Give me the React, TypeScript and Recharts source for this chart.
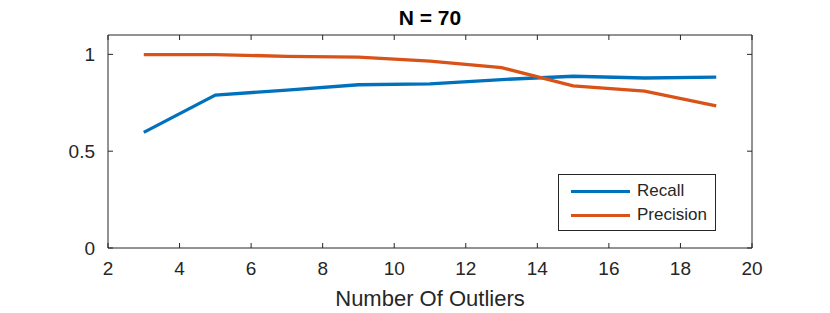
import React from 'react';
import { LineChart, Line, XAxis, YAxis, Legend, Label } from 'recharts';

const outliers = [3, 5, 7, 9, 11, 13, 15, 17, 19];
const recall = [0.597, 0.79, 0.815, 0.843, 0.848, 0.87, 0.887, 0.878, 0.882];
const precision = [0.999, 0.999, 0.99, 0.986, 0.965, 0.932, 0.837, 0.81, 0.734];
const xTicks = [2, 4, 6, 8, 10, 12, 14, 16, 18, 20];
const yTicks = [0, 0.5, 1];

const BLUE = '#0072BD';
const ORANGE = '#D95319';
const AXIS = '#262626';
const FONT = '"Liberation Sans", Arial, Helvetica, sans-serif';

const data = outliers.map((x, i) => ({ x, recall: recall[i], precision: precision[i] }));

const LegendBox = () => (
  <div
    style={{
      width: 156,
      height: 51,
      border: '1px solid #262626',
      background: '#fff',
      fontFamily: FONT,
      fontSize: 17,
      color: AXIS,
      boxSizing: 'content-box',
      paddingTop: 4,
    }}
  >
    {[
      { name: 'Recall', color: BLUE },
      { name: 'Precision', color: ORANGE },
    ].map((item) => (
      <div key={item.name} style={{ display: 'flex', alignItems: 'center', height: 24 }}>
        <span
          style={{
            display: 'inline-block',
            width: 59,
            height: 3,
            marginLeft: 12,
            marginRight: 7,
            background: item.color,
          }}
        />
        <span>{item.name}</span>
      </div>
    ))}
  </div>
);

export default function App() {
  const tickStyle = { fill: AXIS, fontSize: 19, fontFamily: FONT };
  return (
    <div style={{ position: 'absolute', left: 0, top: 0, background: '#fff' }}>
      <LineChart width={830} height={313} data={data} margin={{ top: 34, right: 77, bottom: 0, left: 0 }}>
        <XAxis
          dataKey="x"
          type="number"
          domain={[2, 20]}
          ticks={xTicks}
          height={65}
          stroke={AXIS}
          tickSize={-5}
          tickMargin={19}
          tick={tickStyle}
        >
          <Label
            value="Number Of Outliers"
            position="insideBottom"
            offset={7}
            style={{ fill: AXIS, fontSize: 22, fontFamily: FONT }}
          />
        </XAxis>
        <XAxis
          xAxisId="top"
          dataKey="x"
          orientation="top"
          type="number"
          domain={[2, 20]}
          ticks={xTicks}
          height={1}
          stroke={AXIS}
          tickSize={-5}
          tickFormatter={() => ''}
        >
          <Label
            value="N = 70"
            position="top"
            offset={9}
            style={{ fill: '#000', fontSize: 21, fontWeight: 'bold', fontFamily: FONT }}
          />
        </XAxis>
        <YAxis
          type="number"
          domain={[0, 1.1]}
          ticks={yTicks}
          width={108}
          stroke={AXIS}
          tickSize={-5}
          tickMargin={18}
          tick={tickStyle}
        />
        <YAxis
          yAxisId="right"
          orientation="right"
          type="number"
          domain={[0, 1.1]}
          ticks={yTicks}
          width={1}
          stroke={AXIS}
          tickSize={-5}
          tickFormatter={() => ''}
        />
        <Legend
          layout="vertical"
          align="center"
          verticalAlign="middle"
          content={() => <LegendBox />}
          wrapperStyle={{ left: 558, top: 174, width: 158 }}
        />
        <Line
          type="linear"
          dataKey="recall"
          name="Recall"
          stroke={BLUE}
          strokeWidth={3.3}
          dot={false}
          isAnimationActive={false}
        />
        <Line
          type="linear"
          dataKey="precision"
          name="Precision"
          stroke={ORANGE}
          strokeWidth={3.3}
          dot={false}
          isAnimationActive={false}
        />
        <Line
          xAxisId="top"
          yAxisId="right"
          dataKey="recall"
          stroke="none"
          dot={false}
          activeDot={false}
          legendType="none"
          isAnimationActive={false}
        />
      </LineChart>
    </div>
  );
}
